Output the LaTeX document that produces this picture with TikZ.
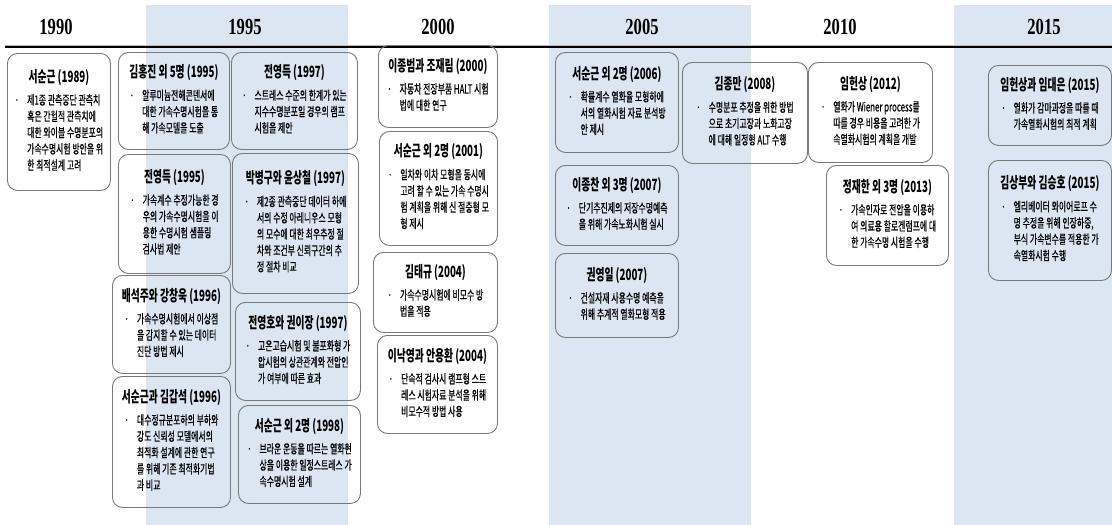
\documentclass[tikz,border=0pt]{standalone}
\usepackage{fontspec}
\newfontfamily\kr[FakeStretch=0.63,FakeBold=0.6]{Noto Sans CJK KR}
\newfontfamily\krtitle[FakeStretch=0.63]{Noto Sans CJK KR}
\newfontfamily\yr[FakeStretch=0.72]{Liberation Serif}
\newcommand{\papertitle}[1]{{\krtitle\bfseries\fontsize{15.5}{16}\selectfont #1}}
\begin{document}
\begin{tikzpicture}[x=1pt,y=1pt,yscale=-1,xscale=1,
    band/.style={fill={rgb,255:red,220;green,230;blue,242}},
    year/.style={font=\yr\bfseries\fontsize{23}{23}\selectfont, inner sep=0pt},
    paper/.style={draw={rgb,255:red,120;green,120;blue,120}, line width=0.9pt, rounded corners=10pt,
        anchor=north west, inner sep=2pt, align=center, font=\kr\fontsize{12.5}{16.3}\selectfont}]
    \useasboundingbox (0,0) rectangle (1112,525);

    % shaded 5-year bands
    \fill[band] (146,5) rectangle (348,525);
    \fill[band] (549,5) rectangle (751,525);
    \fill[band] (954,5) rectangle (1112,525);

    % year labels
    \node[year] (y1990) at (56,27) {1990};
    \node[year] (y1995) at (245,27) {1995};
    \node[year] (y2000) at (438,27) {2000};
    \node[year] (y2005) at (642,27) {2005};
    \node[year] (y2010) at (840,27) {2010};
    \node[year] (y2015) at (1044,27) {2015};

    % time axis
    \draw[line width=3pt, gray!55] (5,46.5) -- (1112,46.5);
    \draw[line width=1.6pt, black] (5,47.2) -- (1112,47.2);

    % 1990
    \node[paper, minimum width=103pt, minimum height=137pt] (seo1989) at (7,53)
        {\papertitle{서순근 (1989)}\\[6pt]
         \begin{tabular}[t]{@{}l@{\hspace{8pt}}l@{}}
         ·& 제1종 관측중단 관측치\\
          & 혹은 간헐적 관측치에\\
          & 대한 와이블 수명분포의\\
          & 가속수명시험 방안을 위\\
          & 한 최적설계 고려
         \end{tabular}};

    % 1995, left column
    \node[paper, minimum width=111pt, minimum height=97pt] (kim1995) at (118,52)
        {\papertitle{김홍진 외 5명 (1995)}\\[6pt]
         \begin{tabular}[t]{@{}l@{\hspace{8pt}}l@{}}
         ·& 알루미늄전해콘덴서에\\
          & 대한 가속수명시험을 통\\
          & 해 가속모델을 도출
         \end{tabular}};
    \node[paper, minimum width=112pt, minimum height=119pt] (jeon1995) at (118,154)
        {\papertitle{전영득 (1995)}\\[6pt]
         \begin{tabular}[t]{@{}l@{\hspace{8pt}}l@{}}
         ·& 가속계수 추정가능한 경\\
          & 우의 가속수명시험을 이\\
          & 용한 수명시험 샘플링\\
          & 검사법 제안
         \end{tabular}};
    \node[paper, minimum width=118pt, minimum height=98pt] (bae1996) at (112,275)
        {\papertitle{배석주와 강창욱 (1996)}\\[6pt]
         \begin{tabular}[t]{@{}l@{\hspace{8pt}}l@{}}
         ·& 가속수명시험에서 이상점\\
          & 을 감지할 수 있는 데이터\\
          & 진단 방법 제시
         \end{tabular}};
    \node[paper, minimum width=118pt, minimum height=131pt] (seo1996) at (112,376)
        {\papertitle{서순근과 김갑석 (1996)}\\[6pt]
         \begin{tabular}[t]{@{}l@{\hspace{8pt}}l@{}}
         ·& 대수정규분포하의 부하와\\
          & 강도 신뢰성 모델에서의\\
          & 최적화 설계에 관한 연구\\
          & 를 위해 기존 최적화기법\\
          & 과 비교
         \end{tabular}};

    % 1995, right column
    \node[paper, minimum width=126pt, minimum height=97pt] (jeon1997) at (231,52)
        {\papertitle{전영득 (1997)}\\[6pt]
         \begin{tabular}[t]{@{}l@{\hspace{8pt}}l@{}}
         ·& 스트레스 수준의 한계가 있는\\
          & 지수수명분포일 경우의 램프\\
          & 시험을 제안
         \end{tabular}};
    \node[paper, minimum width=126pt, minimum height=140pt] (park1997) at (232,153)
        {\papertitle{박병구와 윤상철 (1997)}\\[6pt]
         \begin{tabular}[t]{@{}l@{\hspace{8pt}}l@{}}
         ·& 제2종 관측중단 데이터 하에\\
          & 서의 수정 아레니우스 모형\\
          & 의 모수에 대한 최우추정 절\\
          & 차와 조건부 신뢰구간의 추\\
          & 정 절차 비교
         \end{tabular}};
    \node[paper, minimum width=125pt, minimum height=98pt] (jeon1997b) at (235,302)
        {\papertitle{전영호와 권이장 (1997)}\\[6pt]
         \begin{tabular}[t]{@{}l@{\hspace{8pt}}l@{}}
         ·& 고온고습시험 및 불포화형 가\\
          & 압시험의 상관관계와 전압인\\
          & 가 여부에 따른 효과
         \end{tabular}};
    \node[paper, minimum width=122pt, minimum height=98pt] (seo1998) at (238,405)
        {\papertitle{서순근 외 2명 (1998)}\\[6pt]
         \begin{tabular}[t]{@{}l@{\hspace{8pt}}l@{}}
         ·& 브라운 운동을 따르는 열화현\\
          & 상을 이용한 일정스트레스 가\\
          & 속수명시험 설계
         \end{tabular}};

    % 2000
    \node[paper, minimum width=119pt, minimum height=82pt] (lee2000) at (378,45)
        {\papertitle{이종범과 조재림 (2000)}\\[6pt]
         \begin{tabular}[t]{@{}l@{\hspace{8pt}}l@{}}
         ·& 자동차 전장부품 HALT 시험\\
          & 법에 대한 연구
         \end{tabular}};
    \node[paper, minimum width=118pt, minimum height=114pt] (seo2001) at (379,131)
        {\papertitle{서순근 외 2명 (2001)}\\[6pt]
         \begin{tabular}[t]{@{}l@{\hspace{8pt}}l@{}}
         ·& 일차와 이차 모형을 동시에\\
          & 고려 할 수 있는 가속 수명시\\
          & 험 계획을 위해 신 절충형 모\\
          & 형 제시
         \end{tabular}};
    \node[paper, minimum width=124pt, minimum height=80pt] (kim2004) at (373,252)
        {\papertitle{김태규 (2004)}\\[6pt]
         \begin{tabular}[t]{@{}l@{\hspace{8pt}}l@{}}
         ·& 가속수명시험에 비모수 방\\
          & 법을 적용
         \end{tabular}};
    \node[paper, minimum width=120pt, minimum height=98pt] (lee2004) at (377,335)
        {\papertitle{이낙영과 안용환 (2004)}\\[6pt]
         \begin{tabular}[t]{@{}l@{\hspace{8pt}}l@{}}
         ·& 단속적 검사시 램프형 스트\\
          & 레스 시험자료 분석을 위해\\
          & 비모수적 방법 사용
         \end{tabular}};

    % 2005
    \node[paper, minimum width=123pt, minimum height=100pt] (seo2006) at (555,52)
        {\papertitle{서순근 외 2명 (2006)}\\[6pt]
         \begin{tabular}[t]{@{}l@{\hspace{8pt}}l@{}}
         ·& 확률계수 열화율 모형하에\\
          & 서의 열화시험 자료 분석방\\
          & 안 제시
         \end{tabular}};
    \node[paper, minimum width=125pt, minimum height=101pt] (kim2008) at (682,62)
        {\papertitle{김종만 (2008)}\\[6pt]
         \begin{tabular}[t]{@{}l@{\hspace{8pt}}l@{}}
         ·& 수명분포 추정을 위한 방법\\
          & 으로 초기고장과 노화고장\\
          & 에 대해 일정형 ALT 수행
         \end{tabular}};
    \node[paper, minimum width=123pt, minimum height=80pt] (lee2007) at (555,165)
        {\papertitle{이종찬 외 3명 (2007)}\\[6pt]
         \begin{tabular}[t]{@{}l@{\hspace{8pt}}l@{}}
         ·& 단기추진제의 저장수명예측\\
          & 을 위해 가속노화시험 실시
         \end{tabular}};
    \node[paper, minimum width=123pt, minimum height=84pt] (kwon2007) at (555,253)
        {\papertitle{권영일 (2007)}\\[6pt]
         \begin{tabular}[t]{@{}l@{\hspace{8pt}}l@{}}
         ·& 건설자재 사용수명 예측을\\
          & 위해 추계적 열화모형 적용
         \end{tabular}};

    % 2010
    \node[paper, minimum width=124pt, minimum height=100pt] (lim2012) at (808,62)
        {\papertitle{임헌상 (2012)}\\[6pt]
         \begin{tabular}[t]{@{}l@{\hspace{8pt}}l@{}}
         ·& 열화가 Wiener process를\\
          & 따를 경우 비용을 고려한 가\\
          & 속열화시험의 계획을 개발
         \end{tabular}};
    \node[paper, minimum width=122pt, minimum height=100pt] (jung2013) at (826,165)
        {\papertitle{정재한 외 3명 (2013)}\\[6pt]
         \begin{tabular}[t]{@{}l@{\hspace{8pt}}l@{}}
         ·& 가속인자로 전압을 이용하\\
          & 여 의료용 할로겐램프에 대\\
          & 한 가속수명 시험을 수행
         \end{tabular}};

    % 2015
    \node[paper, minimum width=123pt, minimum height=80pt] (lim2015) at (988,65)
        {\papertitle{임헌상과 임대은 (2015)}\\[6pt]
         \begin{tabular}[t]{@{}l@{\hspace{8pt}}l@{}}
         ·& 열화가 감마과정을 따를 때\\
          & 가속열화시험의 최적 계획
         \end{tabular}};
    \node[paper, minimum width=123pt, minimum height=120pt] (kim2015) at (988,160)
        {\papertitle{김상부와 김승호 (2015)}\\[6pt]
         \begin{tabular}[t]{@{}l@{\hspace{8pt}}l@{}}
         ·& 엘리베이터 와이어로프 수\\
          & 명 추정을 위해 인장하중,\\
          & 부식 가속변수를 적용한 가\\
          & 속열화시험 수행
         \end{tabular}};
\end{tikzpicture}
\end{document}
